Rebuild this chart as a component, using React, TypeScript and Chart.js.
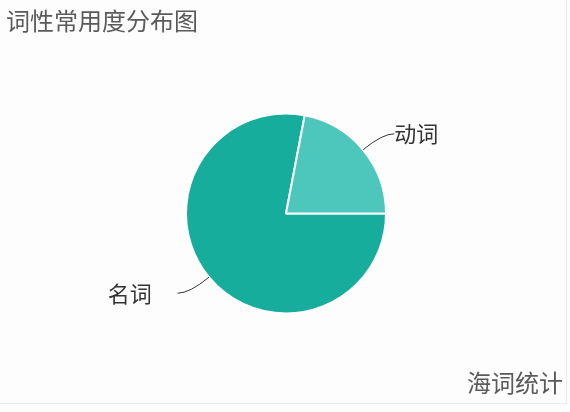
import React, { useEffect, useRef } from "react";
import { Chart, registerables } from "chart.js";

Chart.register(...registerables);

const categories = ["名词", "动词"];
const values = [78, 22];
const colors = ["#17ad9d", "#4dc7bc"];
const titleText = "词性常用度分布图";
const footerText = "海词统计";

const labelPlugin = {
  id: "pieLabels",
  afterDatasetsDraw(chart: any) {
    const ctx = chart.ctx;
    const meta = chart.getDatasetMeta(0);
    meta.data.forEach((arc: any, i: number) => {
      const { x, y, startAngle, endAngle, outerRadius } = arc.getProps(
        ["x", "y", "startAngle", "endAngle", "outerRadius"],
        true
      );
      const mid = (startAngle + endAngle) / 2;
      const cos = Math.cos(mid);
      const sin = Math.sin(mid);
      const right = cos >= 0;
      const p0x = x + outerRadius * cos;
      const p0y = y + outerRadius * sin;
      const len1 = 25;
      const len2 = 12;
      const p1x = p0x + len1 * cos;
      const p1y = p0y + len1 * sin;
      const p2x = p1x + (right ? len2 : -len2);
      const p2y = p1y;
      ctx.save();
      ctx.strokeStyle = "#333";
      ctx.lineWidth = 1;
      ctx.beginPath();
      ctx.moveTo(p0x, p0y);
      ctx.quadraticCurveTo(p1x, p1y, p2x, p2y);
      ctx.stroke();
      ctx.fillStyle = "#333";
      ctx.font = '22px "Noto Sans CJK SC"';
      ctx.textBaseline = "middle";
      if (right) {
        ctx.textAlign = "left";
        ctx.fillText(categories[i], p2x, p2y);
      } else {
        ctx.textAlign = "right";
        ctx.fillText(categories[i], p2x - 26, p2y);
      }
      ctx.restore();
    });
  },
};

export default function App() {
  const ref = useRef<HTMLCanvasElement | null>(null);
  useEffect(() => {
    if (!ref.current) return;
    const chart = new Chart(ref.current, {
      type: "pie",
      data: {
        labels: categories,
        datasets: [
          {
            data: values,
            backgroundColor: colors,
            borderColor: "#ffffff",
            borderWidth: 2,
          },
        ],
      },
      options: {
        animation: false,
        responsive: false,
        rotation: 90,
        layout: { padding: { left: 185, right: 183, top: 112, bottom: 97 } },
        plugins: {
          legend: { display: false },
          tooltip: { enabled: false },
          title: { display: false },
        },
      },
      plugins: [labelPlugin],
    });
    return () => chart.destroy();
  }, []);

  return (
    <div
      style={{
        position: "absolute",
        left: 0,
        top: 0,
        width: 570,
        height: 412,
        background: "#fdfdfe",
        overflow: "hidden",
        fontFamily: '"Noto Sans CJK SC", sans-serif',
      }}
    >
      <canvas
        ref={ref}
        width={570}
        height={412}
        style={{ position: "absolute", left: 0, top: 0, width: 570, height: 412 }}
      />
      <div
        style={{
          position: "absolute",
          left: 6,
          top: 7,
          fontSize: 24,
          lineHeight: "26px",
          color: "#5a5a5a",
          whiteSpace: "nowrap",
        }}
      >
        {titleText}
      </div>
      <div
        style={{
          position: "absolute",
          right: 7,
          top: 369,
          fontSize: 24,
          lineHeight: "26px",
          color: "#5a5a5a",
          whiteSpace: "nowrap",
        }}
      >
        {footerText}
      </div>
      <div
        style={{
          position: "absolute",
          left: 0,
          top: 403,
          width: 567,
          height: 1,
          background: "#ececee",
        }}
      />
      <div
        style={{
          position: "absolute",
          left: 566,
          top: 0,
          width: 1,
          height: 404,
          background: "#ececee",
        }}
      />
    </div>
  );
}
